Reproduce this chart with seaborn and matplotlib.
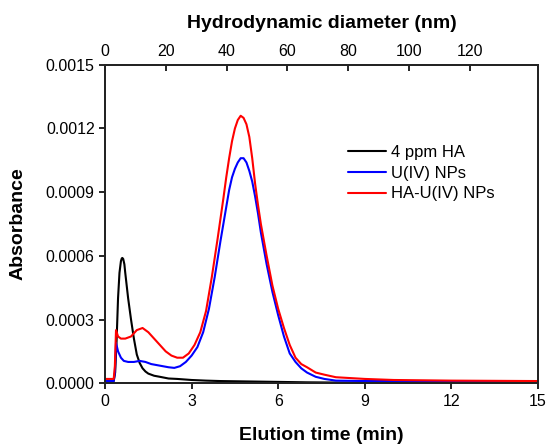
import numpy as np
import pandas as pd
import matplotlib
matplotlib.use("Agg")
import matplotlib.pyplot as plt
import seaborn as sns

# 4 ppm HA
t_ha = [0, 0.1, 0.2, 0.3, 0.35, 0.4, 0.45, 0.5, 0.55, 0.58, 0.6, 0.63, 0.67, 0.7, 0.8,
        0.9, 1.0, 1.1, 1.2, 1.3, 1.4, 1.5, 1.7, 1.9, 2.2, 2.5, 3.0, 3.5, 4.0, 5.0, 6.0,
        7.0, 8.0, 9.0, 10.0, 12.0, 15.0]
a_ha = [0.00001, -0.00001, 0.0, 0.00001, 0.00005, 0.0002, 0.0004, 0.00052, 0.000575,
        0.000588, 0.00059, 0.000585, 0.00056, 0.00052, 0.0004, 0.0003, 0.00021, 0.000135,
        0.000095, 0.00007, 0.000055, 0.000045, 0.000035, 0.00003, 0.000022, 0.00002,
        0.000015, 0.000012, 0.00001, 0.000008, 0.000006, 0.000004, 0.000003, 0.000002,
        0.000001, 0.000001, 0.0]

# U(IV) NPs
t_u = [0, 0.3, 0.34, 0.38, 0.45, 0.55, 0.65, 0.8, 1.0, 1.2, 1.4, 1.6, 1.8, 2.0, 2.2,
       2.4, 2.6, 2.8, 3.0, 3.2, 3.4, 3.6, 3.8, 4.0, 4.2, 4.3, 4.4, 4.5, 4.6, 4.7, 4.8,
       4.9, 5.0, 5.1, 5.2, 5.3, 5.4, 5.6, 5.8, 6.0, 6.2, 6.4, 6.6, 6.8, 7.0, 7.3, 7.6,
       8.0, 9.0, 10.0, 12.0, 15.0]
a_u = [0.00001, 0.00001, 0.00005, 0.00019, 0.00015, 0.00012, 0.000105, 0.0001, 0.0001,
       0.000105, 0.0001, 0.00009, 0.000085, 0.00008, 0.000075, 0.000072, 0.00008, 0.0001,
       0.00013, 0.00017, 0.00024, 0.00035, 0.0005, 0.00067, 0.00083, 0.00091, 0.00097,
       0.00101, 0.00104, 0.00106, 0.00106, 0.00104, 0.001, 0.00095, 0.00088, 0.0008,
       0.00071, 0.00056, 0.00043, 0.00032, 0.00022, 0.00014, 0.0001, 0.00007, 0.00005,
       0.00003, 0.00002, 0.000012, 0.00001, 0.00001, 0.000008, 0.000005]

# HA-U(IV) NPs
t_hau = [0, 0.3, 0.34, 0.38, 0.45, 0.55, 0.7, 0.9, 1.1, 1.3, 1.5, 1.7, 1.9, 2.1, 2.3,
         2.5, 2.7, 2.9, 3.1, 3.3, 3.5, 3.7, 3.9, 4.1, 4.2, 4.3, 4.4, 4.5, 4.6, 4.7, 4.8,
         4.9, 5.0, 5.1, 5.2, 5.3, 5.4, 5.6, 5.8, 6.0, 6.2, 6.4, 6.6, 6.8, 7.0, 7.3, 7.6,
         8.0, 9.0, 10.0, 12.0, 15.0]
a_hau = [0.00002, 0.00002, 0.00008, 0.00025, 0.00022, 0.00021, 0.00021, 0.00022, 0.00025,
         0.00026, 0.00024, 0.00021, 0.00018, 0.00015, 0.00013, 0.00012, 0.00012, 0.00014,
         0.00018, 0.00024, 0.00034, 0.0005, 0.00068, 0.00087, 0.00097, 0.00106, 0.00114,
         0.0012, 0.00124, 0.00126, 0.00125, 0.00122, 0.00116, 0.00106, 0.00094, 0.00084,
         0.00075, 0.0006, 0.00046, 0.00035, 0.00026, 0.00018, 0.00012, 0.00009, 0.000075,
         0.00005, 0.00004, 0.000028, 0.00002, 0.000015, 0.000012, 0.00001]

names = ["4 ppm HA", "U(IV) NPs", "HA-U(IV) NPs"]
colors = ["black", "#0000ff", "#ff0000"]

df = pd.concat([
    pd.DataFrame({"t": t_ha, "A": a_ha, "s": names[0]}),
    pd.DataFrame({"t": t_u, "A": a_u, "s": names[1]}),
    pd.DataFrame({"t": t_hau, "A": a_hau, "s": names[2]}),
])

sns.set_style("ticks")
plt.rcParams['font.family'] = ['Liberation Sans', 'DejaVu Sans']
plt.rcParams['text.color'] = 'black'
plt.rcParams['axes.labelcolor'] = 'black'
plt.rcParams['xtick.color'] = 'black'
plt.rcParams['ytick.color'] = 'black'

fig = plt.figure(figsize=(5.5, 4.44), dpi=100)
ax = fig.add_axes([0.191, 0.137, 0.787, 0.717])

sns.lineplot(data=df, x="t", y="A", hue="s", palette=dict(zip(names, colors)),
             linewidth=1.5, ax=ax, sort=False)

yt = np.arange(0, 0.00151, 0.0003)
ax.set_xlim(0, 15)
ax.set_ylim(0, 0.0015)
ax.set_xticks(np.arange(0, 16, 3))
ax.set_yticks(yt)
ax.set_yticklabels([f"{v:.4f}" for v in yt])
ax.set_xlabel("Elution time (min)", fontsize=14, fontweight="bold", labelpad=13)
ax.set_ylabel("Absorbance", fontsize=14, fontweight="bold", labelpad=14)
ax.tick_params(axis="both", labelsize=11.5, direction="out", length=4, width=1.2, colors="black")
for sp in ax.spines.values():
    sp.set_linewidth(1.3)
    sp.set_color("black")
    sp.set_visible(True)

ax2 = ax.twiny()
ax2.set_xlim(0, 142.4)
ax2.set_xticks(np.arange(0, 121, 20))
ax2.set_xlabel("Hydrodynamic diameter (nm)", fontsize=14, fontweight="bold", labelpad=12)
ax2.tick_params(axis="x", labelsize=11.5, direction="in", length=4, width=1.2, pad=4)
for sp in ax2.spines.values():
    sp.set_linewidth(1.3)

ax.legend(loc="upper left", bbox_to_anchor=(0.545, 0.77), frameon=False, fontsize=12,
          handlelength=2.3, handletextpad=0.3, labelspacing=0.35, borderaxespad=0)

fig.savefig("out.png", dpi=100)
